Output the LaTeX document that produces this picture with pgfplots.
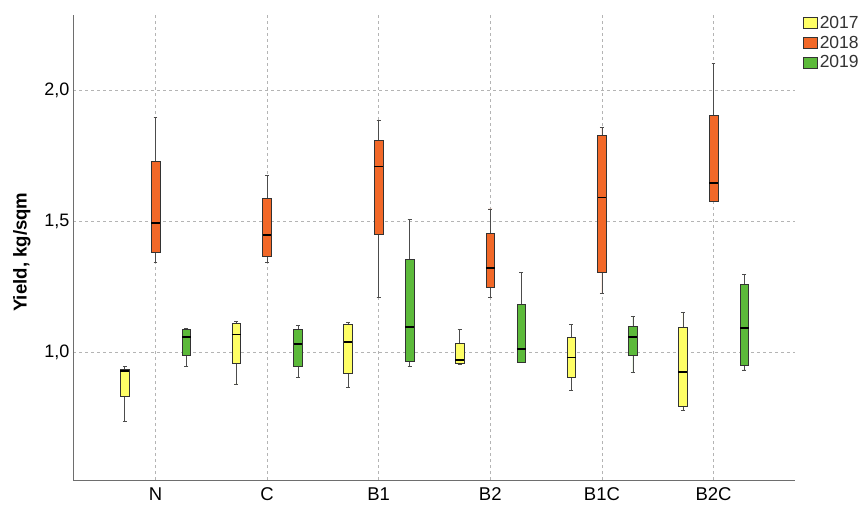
\documentclass[border=0pt]{standalone}
\usepackage{fontspec}
\setmainfont{Liberation Sans}
\usepackage{pgfplots}
\pgfplotsset{compat=1.18}
\usepgfplotslibrary{statistics}
\definecolor{c17}{RGB}{255,255,102}
\definecolor{c18}{RGB}{242,104,40}
\definecolor{c19}{RGB}{92,186,58}
\definecolor{axgray}{RGB}{110,110,110}
\definecolor{gridgray}{RGB}{180,180,180}
\pgfplotsset{
  bx/.style={draw=black!80, line width=0.6pt, forget plot,
    boxplot/draw direction=y,
    boxplot/box extend=0.078, boxplot/whisker extend=0.035,
    boxplot/every median/.style={draw=black, line width=1.6pt},
    boxplot/every whisker/.style={draw=black!70, line width=0.6pt}},
  b17/.style={bx, fill=c17},
  b18/.style={bx, fill=c18},
  b19/.style={bx, fill=c19},
}
\begin{document}
\begin{tikzpicture}[x=1pt,y=1pt]
\useasboundingbox (0,0) rectangle (865,509);
\begin{axis}[
  at={(73pt,29pt)}, anchor=south west,
  scale only axis, width=722pt, height=465pt,
  xmin=-0.739, xmax=5.73, ymin=0.514, ymax=2.289,
  axis lines*=left,
  axis line style={-, draw=axgray, line width=0.9pt},
  xtick={0,1,2,3,4,5},
  xticklabels={N,C,B1,B2,B1C,B2C},
  ytick={1,1.5,2},
  major tick length=0pt,
  grid=major,
  grid style={dash pattern=on 3pt off 3pt, draw=gridgray, line width=0.7pt},
  yticklabel style={/pgf/number format/.cd, fixed, fixed zerofill, precision=1, use comma, assume math mode=true,
    /tikz/.cd, font=\fontsize{18}{20}\selectfont, text=black},
  xticklabel style={font=\fontsize{18.5}{20}\selectfont, text=black, yshift=-4pt},
  ylabel={Yield, kg/sqm},
  ylabel style={font=\fontsize{18.6}{20}\selectfont\bfseries, at={(ticklabel cs:0.49,7pt)}},
  legend image code/.code={\draw[#1] (0pt,-5.5pt) rectangle (14pt,5.5pt);},
  legend style={at={(1.011,1)}, anchor=north west, draw=none, fill=none, inner sep=0pt,
    font=\fontsize{17.5}{18}\selectfont, text=black!80, row sep=4pt,
    nodes={inner xsep=2pt, inner ysep=1pt}},
  legend cell align=left,
  clip=false,
]
\addlegendimage{draw=black!80, fill=c17, line width=0.6pt}
\addlegendentry{2017}
\addlegendimage{draw=black!80, fill=c18, line width=0.6pt}
\addlegendentry{2018}
\addlegendimage{draw=black!80, fill=c19, line width=0.6pt}
\addlegendentry{2019}
% N
\addplot[b17, boxplot prepared={draw position=-0.275, lower whisker=0.737, lower quartile=0.832, median=0.930, upper quartile=0.938, upper whisker=0.947}] coordinates {};
\addplot[b18, boxplot prepared={draw position=0.0, lower whisker=1.344, lower quartile=1.383, median=1.494, upper quartile=1.729, upper whisker=1.897}] coordinates {};
\addplot[b19, boxplot prepared={draw position=0.277, lower whisker=0.949, lower quartile=0.991, median=1.059, upper quartile=1.090, upper whisker=1.093}] coordinates {};
% C
\addplot[b17, boxplot prepared={draw position=0.725, lower whisker=0.881, lower quartile=0.960, median=1.070, upper quartile=1.111, upper whisker=1.118}] coordinates {};
\addplot[b18, boxplot prepared={draw position=1.0, lower whisker=1.345, lower quartile=1.369, median=1.449, upper quartile=1.590, upper whisker=1.676}] coordinates {};
\addplot[b19, boxplot prepared={draw position=1.277, lower whisker=0.906, lower quartile=0.947, median=1.032, upper quartile=1.090, upper whisker=1.105}] coordinates {};
% B1
\addplot[b17, boxplot prepared={draw position=1.725, lower whisker=0.869, lower quartile=0.923, median=1.041, upper quartile=1.108, upper whisker=1.117}] coordinates {};
\addplot[b18, boxplot prepared={draw position=2.0, lower whisker=1.210, lower quartile=1.450, median=1.710, upper quartile=1.809, upper whisker=1.887}] coordinates {};
\addplot[b19, boxplot prepared={draw position=2.277, lower whisker=0.947, lower quartile=0.968, median=1.097, upper quartile=1.356, upper whisker=1.510}] coordinates {};
% B2
\addplot[b17, boxplot prepared={draw position=2.725, lower whisker=0.957, lower quartile=0.960, median=0.972, upper quartile=1.036, upper whisker=1.090}] coordinates {};
\addplot[b18, boxplot prepared={draw position=3.0, lower whisker=1.210, lower quartile=1.248, median=1.324, upper quartile=1.456, upper whisker=1.549}] coordinates {};
\addplot[b19, boxplot prepared={draw position=3.277, lower whisker=0.962, lower quartile=0.962, median=1.013, upper quartile=1.185, upper whisker=1.307}] coordinates {};
% B1C
\addplot[b17, boxplot prepared={draw position=3.725, lower whisker=0.856, lower quartile=0.906, median=0.981, upper quartile=1.057, upper whisker=1.108}] coordinates {};
\addplot[b18, boxplot prepared={draw position=4.0, lower whisker=1.227, lower quartile=1.307, median=1.592, upper quartile=1.828, upper whisker=1.859}] coordinates {};
\addplot[b19, boxplot prepared={draw position=4.277, lower whisker=0.926, lower quartile=0.989, median=1.059, upper quartile=1.102, upper whisker=1.137}] coordinates {};
% B2C
\addplot[b17, boxplot prepared={draw position=4.725, lower whisker=0.779, lower quartile=0.797, median=0.927, upper quartile=1.095, upper whisker=1.154}] coordinates {};
\addplot[b18, boxplot prepared={draw position=5.0, lower whisker=1.579, lower quartile=1.579, median=1.647, upper quartile=1.907, upper whisker=2.105}] coordinates {};
\addplot[b19, boxplot prepared={draw position=5.277, lower whisker=0.934, lower quartile=0.950, median=1.095, upper quartile=1.260, upper whisker=1.298}] coordinates {};
\end{axis}
\end{tikzpicture}
\end{document}
